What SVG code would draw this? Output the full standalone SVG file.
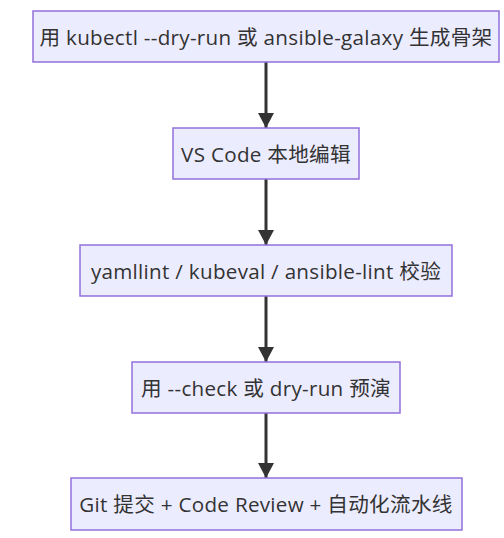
<svg xmlns="http://www.w3.org/2000/svg" width="504" height="538" viewBox="0 0 504 538">
<style>
.node rect{fill:#ECECFF;stroke:#9370DB;stroke-width:1.5}
.node text{font-family:"Open Sans","Noto Sans CJK SC",sans-serif;font-size:20.6px;letter-spacing:0.3px;fill:#333;text-anchor:middle;dominant-baseline:central}
.edge{stroke:#333;stroke-width:3;fill:none}
</style>
<defs>
<marker id="arrow" viewBox="0 0 16 17" refX="16" refY="8.5" markerWidth="17" markerHeight="16" markerUnits="userSpaceOnUse" orient="auto">
<path d="M0,0 L16,8.5 L0,17 z" fill="#333"/>
</marker>
</defs>
<rect width="504" height="538" fill="#fff"/>
<g id="connectors">
<line class="edge" x1="266" y1="62" x2="266" y2="128" marker-end="url(#arrow)"/>
<line class="edge" x1="266" y1="179" x2="266" y2="245" marker-end="url(#arrow)"/>
<line class="edge" x1="266" y1="296" x2="266" y2="362" marker-end="url(#arrow)"/>
<line class="edge" x1="266" y1="413" x2="266" y2="478" marker-end="url(#arrow)"/>
</g>
<g id="n1" class="node"><rect x="33" y="11" width="466" height="51"/><text x="266" y="37">用 kubectl --dry-run 或 ansible-galaxy 生成骨架</text></g>
<g id="n2" class="node"><rect x="173" y="128" width="186" height="51"/><text x="266" y="154">VS Code 本地编辑</text></g>
<g id="n3" class="node"><rect x="80" y="245" width="372" height="51"/><text x="266" y="271">yamllint / kubeval / ansible-lint 校验</text></g>
<g id="n4" class="node"><rect x="132" y="362" width="268" height="51"/><text x="266" y="388">用 --check 或 dry-run 预演</text></g>
<g id="n5" class="node"><rect x="71" y="478" width="391" height="52"/><text x="266" y="504">Git 提交 + Code Review + 自动化流水线</text></g>
</svg>
